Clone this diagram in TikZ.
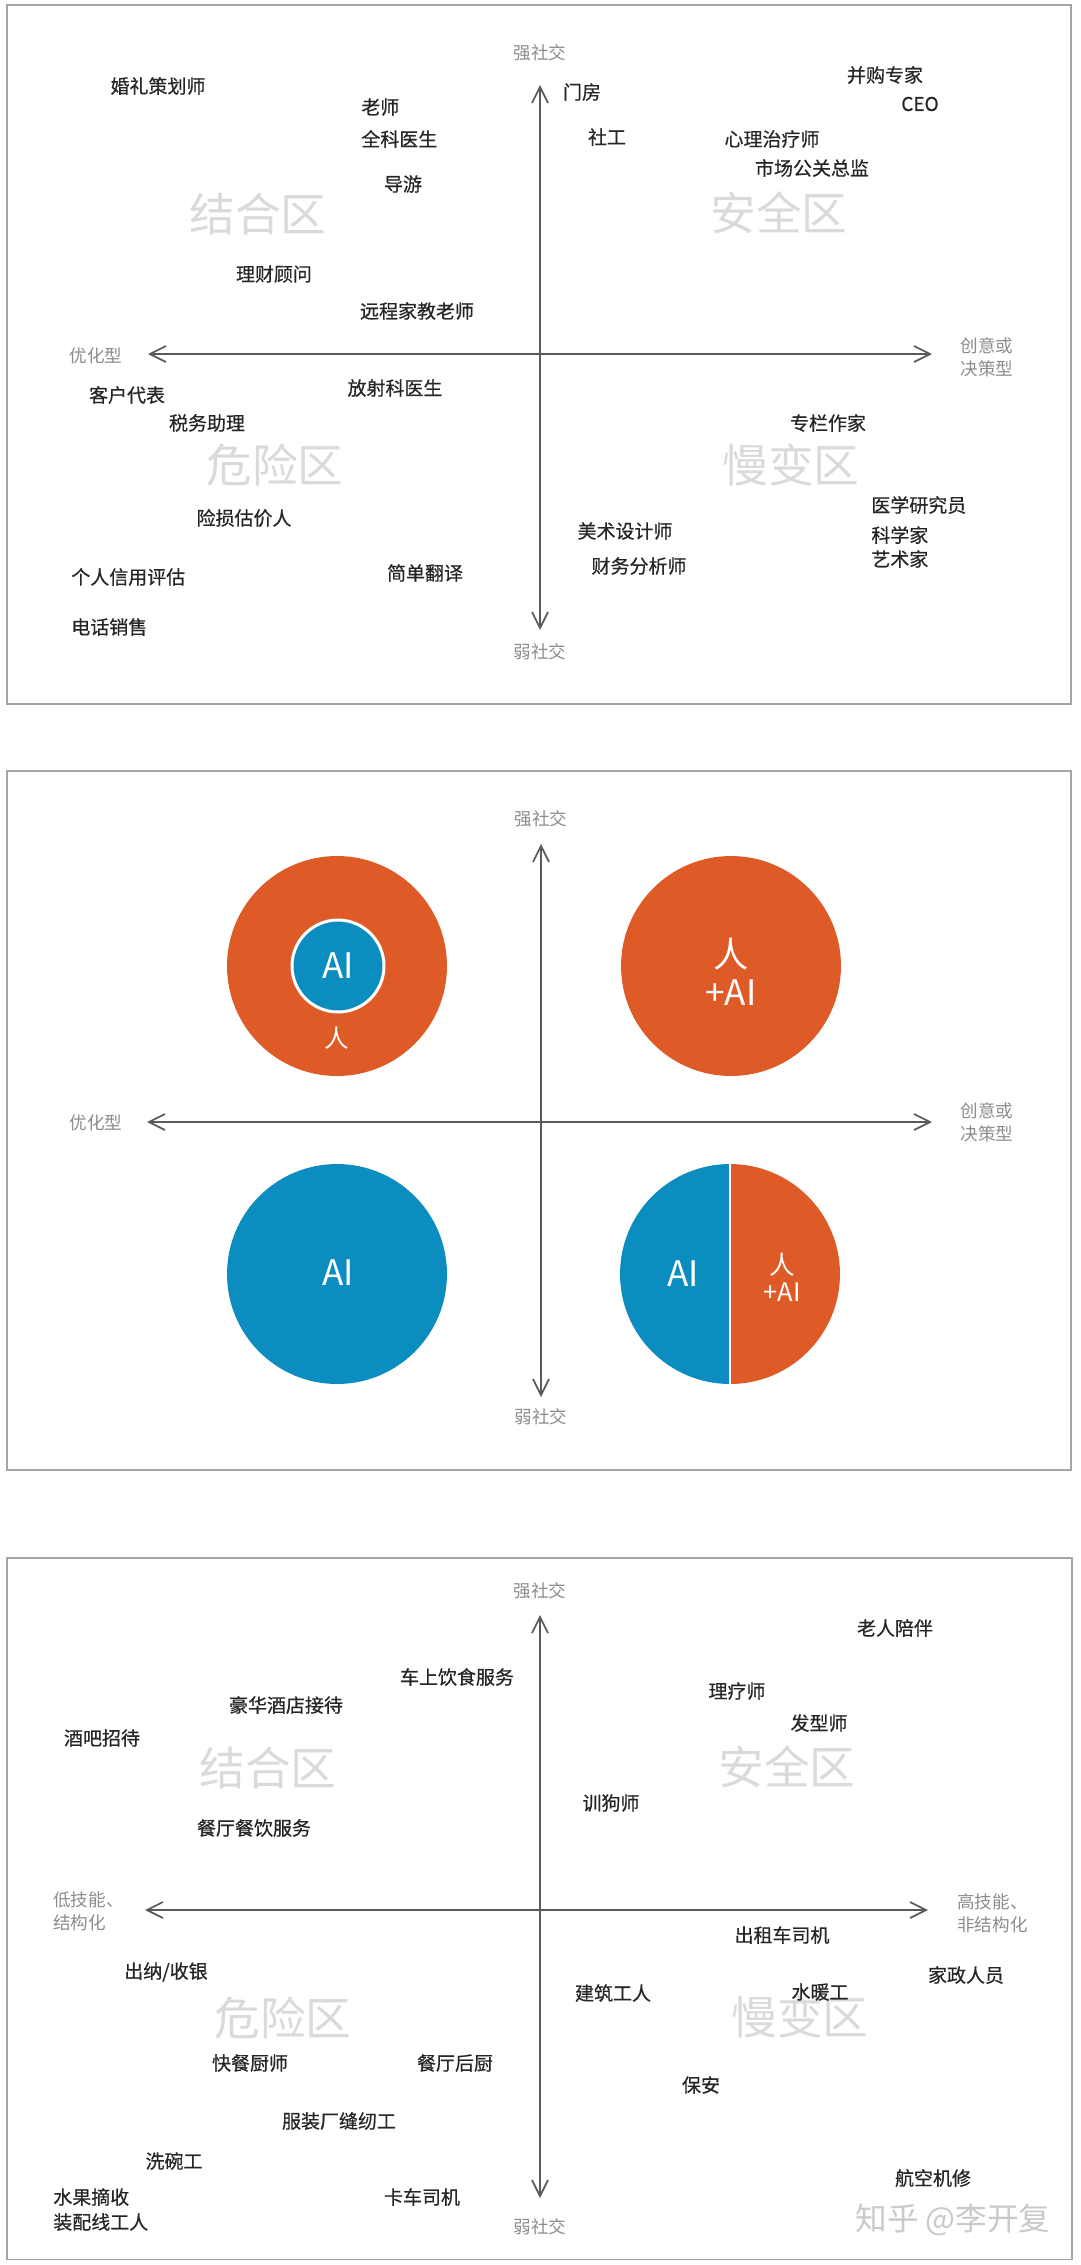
\documentclass[tikz,border=0pt]{standalone}
\usepackage{fontspec}
\setmainfont{Noto Sans CJK SC}
\newfontfamily\jobfont[FakeBold=0.6]{Noto Sans CJK SC}
\usetikzlibrary{arrows.meta}
\definecolor{aiorange}{HTML}{DE5A26}
\definecolor{aiblue}{HTML}{0C8DBF}
\definecolor{jobgray}{HTML}{262626}
\definecolor{labelgray}{HTML}{8C8C8C}
\definecolor{zonegray}{HTML}{DADADA}
\definecolor{axisgray}{HTML}{5A5A5A}
\definecolor{framegray}{HTML}{A5A5A5}
\definecolor{markgray}{HTML}{C9C9C9}
\tikzset{
  job/.style={text=jobgray, font=\jobfont\fontsize{10.8}{13}\selectfont, inner sep=0pt},
  axislabel/.style={text=labelgray, font=\fontsize{10}{13}\selectfont, inner sep=0pt, align=left},
  zone/.style={text=zonegray, font=\fontsize{26}{30}\selectfont, inner sep=0pt},
  axisline/.style={draw=axisgray, line width=1pt, {Straight Barb[length=0.32cm,width=0.32cm]}-{Straight Barb[length=0.32cm,width=0.32cm]}},
  panel/.style={draw=framegray, line width=0.6pt},
  disc/.style={circle, minimum size=4.4cm, inner sep=0pt, outer sep=0pt},
  inai/.style={text=white, font=\fontsize{20}{21.5}\selectfont, inner sep=0pt, align=center}
}
\begin{document}
\begin{tikzpicture}[x=0.02cm, y=-0.02cm]
                    \useasboundingbox (0,0) rectangle (1080,2265);
                    \draw [panel] (7,5) rectangle (1071,704);
                    \draw [panel] (7,771) rectangle (1071,1470);
                    \draw [panel] (7,1558) rectangle (1072,2259);

                    \coordinate (a1n) at (540,85);
                    \coordinate (a1s) at (540,630);
                    \coordinate (a1w) at (148,354);
                    \coordinate (a1e) at (932,354);
                    \draw [axisline] (a1s) -- (a1n);
                    \draw [axisline] (a1w) -- (a1e);
                    \node (a1up) at (540,53) [axislabel] {强社交};
                    \node (a1down) at (540,652) [axislabel] {弱社交};
                    \node (a1left) at (96,356) [axislabel] {优化型};
                    \node (a1right) at (987,357) [axislabel] {创意或\\决策型};

                    \node (z1tl) at (258,214) [zone] {结合区};
                    \node (z1tr) at (779,213) [zone] {安全区};
                    \node (z1bl) at (275,465) [zone] {危险区};
                    \node (z1br) at (791,465) [zone] {慢变区};

                    \node (wedding) at (158,86) [job] {婚礼策划师};
                    \node (teacher) at (361,107) [job, anchor=west] {老师};
                    \node (gp) at (361,139) [job, anchor=west] {全科医生};
                    \node (guide) at (403,184) [job] {导游};
                    \node (advisor) at (274,274) [job] {理财顾问};
                    \node (tutor) at (417,311) [job] {远程家教老师};
                    \node (porter) at (582,92) [job] {门房};
                    \node (social) at (607,137) [job] {社工};
                    \node (therapist) at (772,139) [job] {心理治疗师};
                    \node (pr) at (812,168) [job] {市场公关总监};
                    \node (ma) at (885,75) [job] {并购专家};
                    \node (ceo) at (920,104) [job] {CEO};
                    \node (rep) at (127,395) [job] {客户代表};
                    \node (tax) at (207,423) [job] {税务助理};
                    \node (adjuster) at (244,518) [job] {险损估价人};
                    \node (credit) at (71,577) [job, anchor=west] {个人信用评估};
                    \node (telesales) at (71,627) [job, anchor=west] {电话销售};
                    \node (radio) at (395,388) [job] {放射科医生};
                    \node (transl) at (425,573) [job] {简单翻译};
                    \node (columnist) at (828,423) [job] {专栏作家};
                    \node (medres) at (871,505) [job, anchor=west] {医学研究员};
                    \node (scientist) at (871,535) [job, anchor=west] {科学家};
                    \node (artist) at (871,559) [job, anchor=west] {艺术家};
                    \node (designer) at (625,531) [job] {美术设计师};
                    \node (analyst) at (639,566) [job] {财务分析师};

                    \coordinate (a2n) at (541,844);
                    \coordinate (a2s) at (541,1397);
                    \coordinate (a2w) at (147,1122);
                    \coordinate (a2e) at (932,1122);
                    \draw [axisline] (a2s) -- (a2n);
                    \draw [axisline] (a2w) -- (a2e);
                    \node (a2up) at (541,819) [axislabel] {强社交};
                    \node (a2down) at (541,1417) [axislabel] {弱社交};
                    \node (a2left) at (96,1123) [axislabel] {优化型};
                    \node (a2right) at (987,1122) [axislabel] {创意或\\决策型};

                    \node (tlc) at (337,966) [disc, fill=aiorange] {};
                    \node (tlin) at (338,966) [circle, fill=aiblue, draw=white, line width=1.7pt, minimum size=1.84cm, inner sep=0pt] {};
                    \node (tlai) at (tlin) [inai] {AI};
                    \node (tlren) at (337,1038) [inai, font=\fontsize{14}{16}\selectfont] {人};
                    \node (trc) at (731,966) [disc, fill=aiorange] {};
                    \node (trtxt) at (731,972) [inai] {人\\+AI};
                    \node (blc) at (337,1274) [disc, fill=aiblue] {};
                    \node (blai) at (338,1273) [inai] {AI};
                    \node (brc) at (730,1274) [disc, path picture={
                        \fill [aiblue] (path picture bounding box.south west) rectangle (path picture bounding box.north);
                        \fill [aiorange] (path picture bounding box.south) rectangle (path picture bounding box.north east);}] {};
                    \draw [white, line width=1.2pt] (brc.north) -- (brc.south);
                    \node (brai) at (683,1274) [inai] {AI};
                    \node (brtxt) at (782,1277) [inai, font=\fontsize{14.5}{15.5}\selectfont] {人\\+AI};

                    \coordinate (a3n) at (540,1615);
                    \coordinate (a3s) at (540,2198);
                    \coordinate (a3w) at (145,1910);
                    \coordinate (a3e) at (928,1910);
                    \draw [axisline] (a3s) -- (a3n);
                    \draw [axisline] (a3w) -- (a3e);
                    \node (a3up) at (540,1591) [axislabel] {强社交};
                    \node (a3down) at (540,2227) [axislabel] {弱社交};
                    \node (a3left) at (53,1911) [axislabel, anchor=west] {低技能、\\结构化};
                    \node (a3right) at (957,1913) [axislabel, anchor=west] {高技能、\\非结构化};

                    \node (z3tl) at (268,1768) [zone] {结合区};
                    \node (z3tr) at (787,1767) [zone] {安全区};
                    \node (z3bl) at (283,2018) [zone] {危险区};
                    \node (z3br) at (800,2017) [zone] {慢变区};

                    \node (train) at (457,1677) [job] {车上饮食服务};
                    \node (hotel) at (286,1705) [job] {豪华酒店接待};
                    \node (bar) at (102,1738) [job] {酒吧招待};
                    \node (waiter) at (254,1828) [job] {餐厅餐饮服务};
                    \node (elder) at (895,1628) [job] {老人陪伴};
                    \node (physio) at (737,1691) [job] {理疗师};
                    \node (hair) at (819,1723) [job] {发型师};
                    \node (dog) at (611,1803) [job] {训狗师};
                    \node (cashier) at (166,1972) [job] {出纳/收银};
                    \node (fastfood) at (250,2063) [job] {快餐厨师};
                    \node (kitchen) at (455,2063) [job] {餐厅后厨};
                    \node (sewing) at (339,2121) [job] {服装厂缝纫工};
                    \node (dish) at (174,2161) [job] {洗碗工};
                    \node (fruit) at (53,2197) [job, anchor=west] {水果摘收};
                    \node (assembly) at (53,2222) [job, anchor=west] {装配线工人};
                    \node (truck) at (422,2197) [job] {卡车司机};
                    \node (taxi) at (782,1935) [job] {出租车司机};
                    \node (house) at (966,1975) [job] {家政人员};
                    \node (builder) at (613,1993) [job] {建筑工人};
                    \node (plumber) at (820,1992) [job] {水暖工};
                    \node (guard) at (701,2085) [job] {保安};
                    \node (aircraft) at (933,2178) [job] {航空机修};
                    \node (mark) at (953,2220) [text=markgray, font=\fontsize{18}{20}\selectfont, inner sep=0pt] {知乎 @李开复};
                \end{tikzpicture}
\end{document}
